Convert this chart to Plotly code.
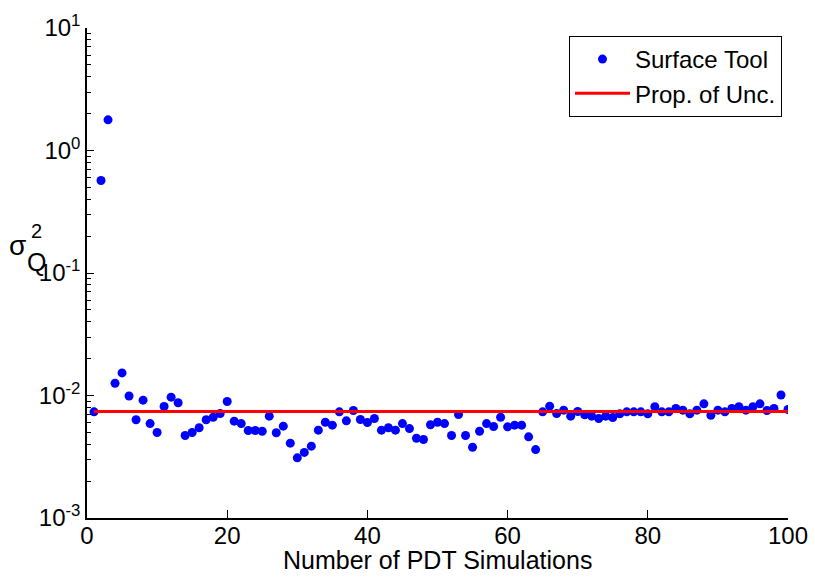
import plotly.graph_objects as go

# ---- data ----
sim_counts = list(range(1, 101))
surface_tool = [
    0.00736, 0.569, 1.78, 0.0126, 0.0153, 0.0099, 0.00634, 0.00916, 0.0059, 0.00499,
    0.00813, 0.00969, 0.00872, 0.00471, 0.00499, 0.00545, 0.00634, 0.00665, 0.00713, 0.00893,
    0.00617, 0.0059, 0.00518, 0.00518, 0.00511, 0.00678, 0.00496, 0.00562, 0.00408, 0.0031,
    0.00343, 0.00386, 0.00521, 0.00605, 0.00573, 0.00736, 0.00621, 0.00755, 0.00637, 0.00602,
    0.00649, 0.00521, 0.00545, 0.00521, 0.0059, 0.00537, 0.00448, 0.00437, 0.00577, 0.00605,
    0.0059, 0.00471, 0.0070, 0.00471, 0.00378, 0.00511, 0.0059, 0.00558, 0.00665, 0.00555,
    0.00573, 0.00573, 0.0046, 0.00362, 0.00736, 0.00818, 0.00713, 0.00759, 0.00678, 0.0074,
    0.00695, 0.00678, 0.00649, 0.00678, 0.00661, 0.00709, 0.00736, 0.00736, 0.00736, 0.00709,
    0.00809, 0.00736, 0.00736, 0.00783, 0.00759, 0.00709, 0.00759, 0.00855, 0.0069, 0.00759,
    0.00736, 0.00783, 0.00809, 0.00759, 0.00809, 0.00855, 0.00755, 0.00783, 0.0101, 0.00769,
]
prop_unc_x = [1, 100]
prop_unc_y = [0.0074, 0.0074]

x_ticks = [0, 20, 40, 60, 80, 100]
y_tickvals = [1e-3, 1e-2, 1e-1, 1e0, 1e1]
y_ticktext = ["10<sup>-3</sup>", "10<sup>-2</sup>", "10<sup>-1</sup>",
              "10<sup>0</sup>", "10<sup>1</sup>"]
y_minor = [m * 10.0 ** e for e in range(-3, 1) for m in range(2, 10)]
x_title = "Number of PDT Simulations"

FONT = "Liberation Sans, Arial, sans-serif"

fig = go.Figure()
fig.add_trace(go.Scatter(
    x=sim_counts, y=surface_tool, mode="markers", name="Surface Tool",
    marker=dict(symbol="circle", size=9, color="#0000ff",
                line=dict(width=0)),
))
fig.add_trace(go.Scatter(
    x=prop_unc_x, y=prop_unc_y, mode="lines", name="Prop. of Unc.",
    line=dict(color="#ff0000", width=3),
))

W, H = 815, 583
L, R, T, B = 87, 27, 28, 65
pw, ph = W - L - R, H - T - B

def px2paper(px, py):
    return (px - L) / pw, (H - B - py) / ph

annots = []
for txt, (px, py), size in [("σ", (17, 245), 28), ("2", (36, 231), 20), ("Q", (36, 262), 25)]:
    ax_, ay_ = px2paper(px, py)
    annots.append(dict(text=txt, x=ax_, y=ay_, xref="paper", yref="paper",
                       xanchor="center", yanchor="middle", showarrow=False,
                       font=dict(family=FONT, size=size, color="black")))
tx, ty = px2paper(437.5, 560)
annots.append(dict(text=x_title, x=tx, y=ty, xref="paper", yref="paper",
                   xanchor="center", yanchor="middle", showarrow=False,
                   font=dict(family=FONT, size=25, color="black")))

lx, ly = px2paper(569, 36)

fig.update_layout(
    width=W, height=H,
    margin=dict(l=L, r=R, t=T, b=B),
    paper_bgcolor="white", plot_bgcolor="white",
    font=dict(family=FONT, color="black", size=24),
    showlegend=True,
    legend=dict(x=lx, y=ly, xanchor="left", yanchor="top",
                bgcolor="white", bordercolor="black", borderwidth=1,
                font=dict(family=FONT, size=24, color="black"),
                itemwidth=55),
    xaxis=dict(range=[0, 100], tickvals=x_ticks, ticks="inside", ticklen=8,
               tickwidth=1.2, tickcolor="black", showline=True, linecolor="black",
               linewidth=1.5, mirror=False, showgrid=False, zeroline=False,
               automargin=False,
               tickfont=dict(size=24), ticklabelstandoff=-5),
    yaxis=dict(type="log", range=[-3, 1], tickvals=y_tickvals, ticktext=y_ticktext,
               ticks="inside", ticklen=7, tickwidth=1.2, tickcolor="black",
               showline=True, linecolor="black", linewidth=1.5, mirror=False,
               showgrid=False, zeroline=False, tickfont=dict(size=24),
               automargin=False,
               minor=dict(ticks="inside", ticklen=4, tickcolor="black",
                          tickwidth=1, tickmode="array", tickvals=y_minor,
                          showgrid=False)),
    annotations=annots,
)

fig.write_html("out.html")
